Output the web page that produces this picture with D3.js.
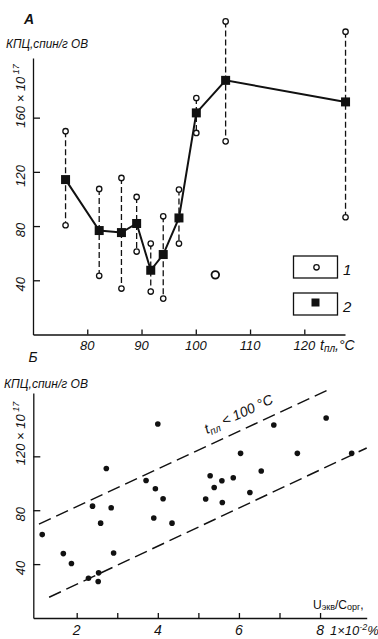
<!DOCTYPE html>
<html><head><meta charset="utf-8">
<script src="https://cdn.jsdelivr.net/npm/d3@7"></script>
<style>
html,body{margin:0;padding:0;background:#fff;}
svg{display:block;}
text{font-family:"Liberation Sans Narrow","Liberation Sans",Arial,sans-serif;font-style:italic;fill:#111;}
</style></head>
<body>
<svg id="c" width="378" height="639"></svg>
<script>
// ---------- Panel A data ----------
const meltTemp = [76, 82.2, 86.3, 89.1, 91.7, 94.0, 96.9, 100.1, 105.5, 127.6];
const kpcMean  = [114.3, 76.7, 75.2, 81.9, 47.4, 59, 86, 163.5, 187.5, 171.6];
const kpcMax   = [150, 107.4, 115.5, 101.5, 67.1, 87.2, 106.9, 174.5, 231, 223.4];
const kpcMin   = [80.6, 43.3, 33.9, 61.2, 31.7, 26.5, 67.1, 148.7, 142.5, 86.5];
const strayTemp = [103.6];
const strayKpc  = [44];
const xTicksA = [80, 90, 100, 110, 120];
const yTicksA = [40, 80, 120, 160];

// ---------- Panel B data ----------
const ratio = [1.15,1.67,1.87,2.29,2.54,2.53,2.91,2.39,2.85,2.59,2.73,3.71,3.94,4.13,3.90,4.35,4.00,
               5.18,5.29,5.39,5.58,5.59,5.86,6.27,6.55,6.04,6.86,7.44,8.15,8.78];
const kpcB  = [61.9,47.8,40.4,29.5,33.5,27.1,48.3,83.0,81.8,70.4,111.0,102.1,95.9,88.5,74.2,70.4,144.0,
               88.3,105.6,96.9,101.9,85.7,104.1,93.2,109.1,122.2,143.3,122.2,148.5,122.2];
const bandUpper = [[1.07, 69.7], [8.25, 170]];
const bandLower = [[1.32, 15.4], [9.15, 126.2]];
const xTicksB = [2, 3, 4, 5, 6, 7, 8];
const xLabelsB = [2, 4, 6, 8];
const yTicksB = [40, 80, 120];

const svg = d3.select("#c");
const ink = "#111";

// ================= Panel A =================
const xA = d3.scaleLinear().domain([70, 127.5]).range([33, 345]);
const yA = d3.scaleLinear().domain([0, 204]).range([334.5, 58]);

const gA = svg.append("g");
gA.append("g").attr("transform", "translate(0,334.5)")
  .call(d3.axisBottom(xA).tickValues(xTicksA).tickSizeInner(-5).tickSizeOuter(0).tickFormat(""))
  .call(g => g.selectAll("path,line").attr("stroke", ink).attr("stroke-width", 1.3));
gA.append("g").attr("transform", "translate(33,0)")
  .call(d3.axisLeft(yA).tickValues(yTicksA).tickSizeInner(-7).tickSizeOuter(0).tickFormat(""))
  .call(g => g.selectAll("path,line").attr("stroke", ink).attr("stroke-width", 1.3));

gA.selectAll(".xl").data(xTicksA).join("text")
  .attr("x", d => xA(d)).attr("y", 350).attr("text-anchor", "middle")
  .attr("font-size", 13).text(d => d);
const tA = gA.append("text").attr("x", 320).attr("y", 350).attr("font-size", 14);
tA.append("tspan").text("t");
tA.append("tspan").attr("font-size", 10).attr("dy", 2).text("пл");
tA.append("tspan").attr("dy", -2).text(",°C");

yTicksA.forEach((v, i) => {
  const last = i === yTicksA.length - 1;
  const t = gA.append("text").attr("font-size", 13)
    .attr("transform", `translate(25,${yA(v) + (last ? 10 : 4)}) rotate(-90)`)
    .attr("text-anchor", last ? "start" : "middle");
  t.append("tspan").text(v);
  if (last) {
    t.append("tspan").text(" × 10");
    t.append("tspan").attr("font-size", 9).attr("dy", -6).text(" 17");
  }
});
gA.append("text").attr("x", 29).attr("y", 24).attr("text-anchor", "middle")
  .attr("font-size", 14).attr("font-weight", "bold").text("A");
gA.append("text").attr("x", 6).attr("y", 48).attr("font-size", 13)
  .attr("textLength", 82).attr("lengthAdjust", "spacingAndGlyphs").text("КПЦ,спин/г ОВ");

gA.selectAll(".rng").data(meltTemp).join("line")
  .attr("x1", d => xA(d)).attr("x2", d => xA(d))
  .attr("y1", (d, i) => yA(kpcMax[i])).attr("y2", (d, i) => yA(kpcMin[i]))
  .attr("stroke", ink).attr("stroke-width", 1.3).attr("stroke-dasharray", "6,3");
gA.append("path").datum(meltTemp)
  .attr("d", d3.line().x(d => xA(d)).y((d, i) => yA(kpcMean[i])))
  .attr("fill", "none").attr("stroke", ink).attr("stroke-width", 2);
const circ = meltTemp.flatMap((t, i) => [[t, kpcMax[i]], [t, kpcMin[i]]]);
gA.selectAll(".cc").data(circ).join("circle")
  .attr("cx", d => xA(d[0])).attr("cy", d => yA(d[1])).attr("r", 2.7)
  .attr("fill", "#fff").attr("stroke", ink).attr("stroke-width", 1.3);
gA.selectAll(".st").data(strayTemp).join("circle")
  .attr("cx", d => xA(d)).attr("cy", (d, i) => yA(strayKpc[i])).attr("r", 3.8)
  .attr("fill", "#fff").attr("stroke", ink).attr("stroke-width", 1.8);
gA.selectAll(".sq").data(meltTemp).join("rect")
  .attr("x", d => xA(d) - 4.5).attr("y", (d, i) => yA(kpcMean[i]) - 4.5)
  .attr("width", 9).attr("height", 9).attr("fill", ink);

const lg = gA.append("g");
lg.append("rect").attr("x", 293.5).attr("y", 256).attr("width", 44).attr("height", 22)
  .attr("fill", "none").attr("stroke", ink).attr("stroke-width", 1.3);
lg.append("circle").attr("cx", 316.5).attr("cy", 267.3).attr("r", 2.7)
  .attr("fill", "#fff").attr("stroke", ink).attr("stroke-width", 1.3);
lg.append("text").attr("x", 343).attr("y", 275).attr("font-size", 15).text("1");
lg.append("rect").attr("x", 293.5).attr("y", 293).attr("width", 44).attr("height", 22)
  .attr("fill", "none").attr("stroke", ink).attr("stroke-width", 1.3);
lg.append("rect").attr("x", 311.5).attr("y", 298.5).attr("width", 8).attr("height", 8).attr("fill", ink);
lg.append("text").attr("x", 343).attr("y", 312).attr("font-size", 15).text("2");

// ================= Panel B =================
const xB = d3.scaleLinear().domain([0.93, 9.15]).range([33.3, 366.7]);
const yB = d3.scaleLinear().domain([0, 167]).range([618, 393]);
const gB = svg.append("g");
gB.append("g").attr("transform", "translate(0,618)")
  .call(d3.axisBottom(xB).tickValues(xTicksB).tickSizeInner(-5).tickSizeOuter(0).tickFormat(""))
  .call(g => g.selectAll("path,line").attr("stroke", ink).attr("stroke-width", 1.3));
gB.append("g").attr("transform", "translate(33.3,0)")
  .call(d3.axisLeft(yB).tickValues(yTicksB).tickSizeInner(-7).tickSizeOuter(0).tickFormat(""))
  .call(g => g.selectAll("path,line").attr("stroke", ink).attr("stroke-width", 1.3));

gB.selectAll(".xl").data(xLabelsB).join("text")
  .attr("x", d => xB(d)).attr("y", 635).attr("text-anchor", "middle")
  .attr("font-size", 14).text(d => d);
const uB = gB.append("text").attr("x", 330).attr("y", 635).attr("font-size", 13);
uB.append("tspan").text("1×10");
uB.append("tspan").attr("font-size", 9).attr("dy", -5).text("-2");
uB.append("tspan").attr("dy", 5).text("%");
const lB = gB.append("text").attr("x", 313).attr("y", 609).attr("font-size", 12).style("font-style", "normal");
lB.append("tspan").text("U");
lB.append("tspan").attr("font-size", 9).attr("dy", 1).text("экв");
lB.append("tspan").attr("dy", -1).text("/C");
lB.append("tspan").attr("font-size", 9).attr("dy", 1).text("орг");
lB.append("tspan").attr("dy", -1).text(",");

yTicksB.forEach((v, i) => {
  const last = i === yTicksB.length - 1;
  const t = gB.append("text").attr("font-size", 13)
    .attr("transform", `translate(25,${yB(v) + (last ? 9 : 4)}) rotate(-90)`)
    .attr("text-anchor", last ? "start" : "middle");
  t.append("tspan").text(v);
  if (last) {
    t.append("tspan").text(" × 10");
    t.append("tspan").attr("font-size", 9).attr("dy", -6).text(" 17");
  }
});
gB.append("text").attr("x", 33).attr("y", 362).attr("text-anchor", "middle")
  .attr("font-size", 14).text("Б");
gB.append("text").attr("x", 4).attr("y", 388).attr("font-size", 13)
  .attr("textLength", 84).attr("lengthAdjust", "spacingAndGlyphs").text("КПЦ,спин/г ОВ");

[bandUpper, bandLower].forEach(b => {
  gB.append("line")
    .attr("x1", xB(b[0][0])).attr("y1", yB(b[0][1]))
    .attr("x2", xB(b[1][0])).attr("y2", yB(b[1][1]))
    .attr("stroke", ink).attr("stroke-width", 1.5).attr("stroke-dasharray", "13,6");
});
const ang = Math.atan2(yB(bandUpper[1][1]) - yB(bandUpper[0][1]), xB(bandUpper[1][0]) - xB(bandUpper[0][0])) * 180 / Math.PI;
const bl = gB.append("text").attr("font-size", 14)
  .attr("transform", `translate(207,434) rotate(${ang})`);
bl.append("tspan").text("t");
bl.append("tspan").attr("font-size", 10).attr("dy", 3).text("пл");
bl.append("tspan").attr("dy", -3).text(" < 100 °C");

gB.selectAll(".pt").data(ratio).join("circle")
  .attr("cx", d => xB(d)).attr("cy", (d, i) => yB(kpcB[i])).attr("r", 2.8).attr("fill", ink);
</script>
</body></html>
